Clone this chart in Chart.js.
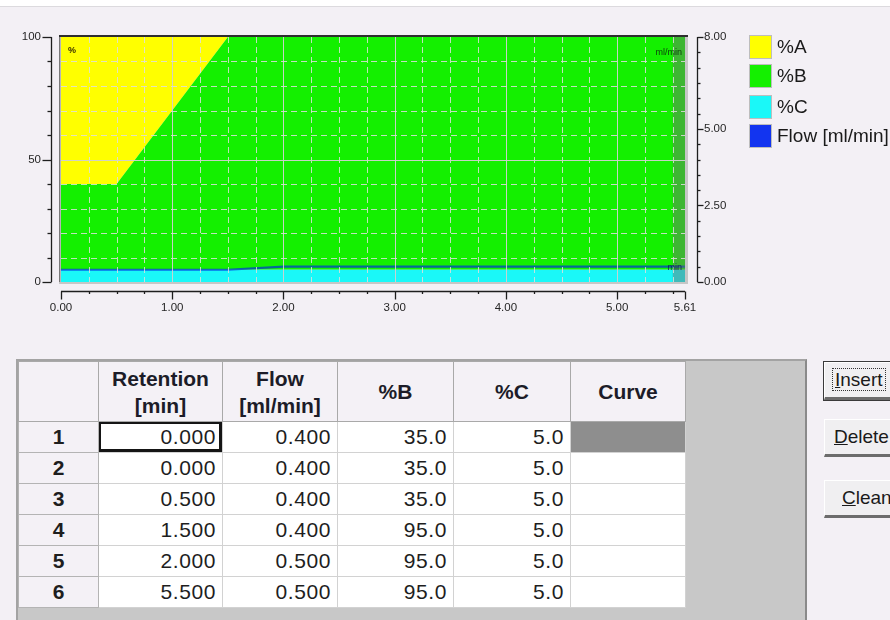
<!DOCTYPE html>
<html><head><meta charset="utf-8">
<script src="https://cdn.jsdelivr.net/npm/chart.js@4/dist/chart.umd.min.js"></script>
<style>
html,body{margin:0;padding:0;width:890px;height:620px;overflow:hidden;background:#f3f0f5;font-family:"Liberation Sans",Arial,sans-serif;}
#topbar{position:absolute;left:0;top:0;width:890px;height:6px;background:#fff;border-bottom:1px solid #dcdade;}
#chartWrap{position:absolute;left:0;top:0;width:890px;height:330px;}
#legend{position:absolute;left:749px;top:35px;width:141px;height:120px;}
.li{position:absolute;left:0;height:24px;white-space:nowrap;}
.sw{position:absolute;left:0;top:0;width:21px;height:22px;border:1px solid #bdbdbd;}
.lt{position:absolute;left:28px;top:0;line-height:24px;font-size:19px;color:#1a1a1a;}
#grid{position:absolute;left:16px;top:359px;width:791px;height:270px;background:#c8c8c8;border-left:2px solid #a3a3a3;border-top:2px solid #a3a3a3;border-right:2px solid #8a8a8a;box-sizing:border-box;}
#grid table{border-collapse:collapse;table-layout:fixed;position:absolute;left:0;top:0;}
#grid th{background:#f4f1f6;border:1px solid #a9a9a9;font-weight:bold;font-size:21px;line-height:27px;color:#1c1c28;height:60px;padding:0;text-align:center;box-sizing:border-box;}
#grid td{height:31px;padding:0 6px 0 0;box-sizing:border-box;border:1px solid #d2d2d2;background:#fff;text-align:right;font-size:21px;letter-spacing:0.6px;color:#1e1e1e;}
#grid td.rh{background:#f4f1f6;border:1px solid #b4b4b4;text-align:center;font-weight:bold;padding:0;letter-spacing:0;}
#grid td.focus{box-shadow:inset 2px 2px 0 #151515, inset -3px -3px 0 #151515;}
#grid td.curvesel{background:#8e8e8e;}
.btn{position:absolute;left:824px;width:90px;height:38px;background:#f0eff1;border-top:1px solid #ffffff;border-left:1px solid #ffffff;border-bottom:3px solid #6c6c6c;border-right:2px solid #6c6c6c;box-sizing:border-box;font-size:19px;color:#1a1a1a;line-height:34px;white-space:nowrap;}
.btn.def{outline:1px solid #3a3a3a;}
.btn span.f{border:1px dotted #333;padding:0 2px;}
</style>
</head>
<body>
<div id="topbar"></div>
<div id="chartWrap"><canvas id="c" width="890" height="330"></canvas></div>
<div id="legend"></div>
<div id="grid"></div>
<div class="btn def" style="top:362px;padding-left:7px;"><span class="f"><u>I</u>nsert</span></div>
<div class="btn" style="top:419px;padding-left:9px;"><u>D</u>elete</div>
<div class="btn" style="top:480px;padding-left:17px;"><u>C</u>lean</div>
<script>
const RETENTION = [0.000, 0.000, 0.500, 1.500, 2.000, 5.500];
const FLOW      = [0.400, 0.400, 0.400, 0.400, 0.500, 0.500];
const PCT_B     = [35.0, 35.0, 35.0, 95.0, 95.0, 95.0];
const PCT_C     = [5.0, 5.0, 5.0, 5.0, 5.0, 5.0];
const CURVE     = ['', '', '', '', '', ''];
const ROW_NUMBERS = [1, 2, 3, 4, 5, 6];
const RUN_END = 5.61;

const X_TICK_VALUES = [0, 1, 2, 3, 4, 5, 5.61];
const X_TICK_LABELS = ['0.00', '1.00', '2.00', '3.00', '4.00', '5.00', '5.61'];
const Y_TICK_VALUES = [0, 50, 100];
const Y_TICK_LABELS = ['0', '50', '100'];
const FLOW_TICK_VALUES = [0, 2.5, 5, 8];
const FLOW_TICK_LABELS = ['0.00', '2.50', '5.00', '8.00'];
const X_MINOR_STEP = 0.25, Y_MINOR_STEP = 10, FLOW_MINOR_STEP = 0.5;

const SERIES_NAMES = ['%A', '%B', '%C', 'Flow [ml/min]'];
const SERIES_COLORS = ['#ffff00', '#14f000', '#1af8f8', '#1234f0'];
const TABLE_HEADERS = ['', 'Retention<br>[min]', 'Flow<br>[ml/min]', '%B', '%C', 'Curve'];
const COL_WIDTHS = [80, 124, 115, 116, 117, 115];

// ---- derived series ----
const T = [...RETENTION, RUN_END];
const hold = arr => [...arr, arr[arr.length - 1]];
const cTop = hold(PCT_C);
const bTop = hold(PCT_B.map((b, i) => b + PCT_C[i]));
const aTop = T.map(() => 100);
const flowExt = hold(FLOW);
const pts = ys => T.map((t, i) => ({x: t, y: ys[i]}));

function stepTicks(min, max, step, majors) {
  const out = [];
  for (let v = min; v <= max + 1e-9; v += step) out.push(+v.toFixed(4));
  majors.forEach(m => { if (!out.some(o => Math.abs(o - m) < 1e-6)) out.push(m); });
  return out.sort((a, b) => a - b);
}
const isIn = (arr, v) => arr.findIndex(m => Math.abs(m - v) < 1e-6);

const decor = {
  id: 'decor',
  afterDatasetsDraw(chart) {
    const {ctx, chartArea: a, scales} = chart;
    const x = scales.x, y = scales.y, y2 = scales.y2;
    ctx.save();
    // post-run band
    const xs = x.getPixelForValue(RETENTION[RETENTION.length - 1]);
    ctx.fillStyle = 'rgba(110,110,110,0.45)';
    ctx.fillRect(xs, a.top, a.right - xs, a.bottom - a.top);
    // grid
    ctx.lineWidth = 1;
    x.ticks.forEach(t => {
      const v = t.value;
      if (v <= x.min + 1e-9 || v >= x.max - 1e-9) return;
      const major = isIn(X_TICK_VALUES, v) >= 0;
      const px = Math.round(x.getPixelForValue(v)) + 0.5;
      ctx.setLineDash(major ? [] : [6, 4]);
      ctx.strokeStyle = major ? 'rgba(208,208,208,0.95)' : 'rgba(222,222,222,0.85)';
      ctx.beginPath(); ctx.moveTo(px, a.top); ctx.lineTo(px, a.bottom); ctx.stroke();
    });
    y.ticks.forEach(t => {
      const v = t.value;
      if (v <= y.min + 1e-9 || v >= y.max - 1e-9) return;
      const major = isIn(Y_TICK_VALUES, v) >= 0;
      const py = Math.round(y.getPixelForValue(v)) + 0.5;
      ctx.setLineDash(major ? [] : [6, 4]);
      ctx.strokeStyle = major ? 'rgba(208,208,208,0.95)' : 'rgba(222,222,222,0.85)';
      ctx.beginPath(); ctx.moveTo(a.left, py); ctx.lineTo(a.right, py); ctx.stroke();
    });
    ctx.setLineDash([]);
    // frame
    const w = a.right - a.left, h = a.bottom - a.top;
    ctx.fillStyle = '#c6c6c6';
    ctx.fillRect(a.right, a.top - 1, 3, h + 3);
    ctx.fillRect(a.left - 2, a.bottom, w + 5, 2);
    ctx.fillStyle = '#7a7a7a';
    ctx.fillRect(a.left - 2, a.top - 2, 1.5, h + 2);
    ctx.fillStyle = '#2e2e2e';
    ctx.fillRect(a.left - 2, a.top - 2, w + 5, 2);
    // axis lines and tick marks
    ctx.strokeStyle = '#1e1e1e';
    ctx.lineWidth = 1.3;
    const lx = a.left - 9.5;
    ctx.beginPath(); ctx.moveTo(lx, y.getPixelForValue(y.max)); ctx.lineTo(lx, y.getPixelForValue(y.min)); ctx.stroke();
    y.ticks.forEach(t => {
      const py = Math.round(y.getPixelForValue(t.value)) + 0.5;
      const len = isIn(Y_TICK_VALUES, t.value) >= 0 ? 9 : 4;
      ctx.beginPath(); ctx.moveTo(lx - len, py); ctx.lineTo(lx, py); ctx.stroke();
    });
    const by = a.bottom + 9.5;
    ctx.beginPath(); ctx.moveTo(x.getPixelForValue(x.min), by); ctx.lineTo(x.getPixelForValue(x.max), by); ctx.stroke();
    x.ticks.forEach(t => {
      const px = Math.round(x.getPixelForValue(t.value)) + 0.5;
      const len = isIn(X_TICK_VALUES, t.value) >= 0 ? 8 : 2.5;
      ctx.beginPath(); ctx.moveTo(px, by); ctx.lineTo(px, by + len); ctx.stroke();
    });
    const rx = a.right + 12.5;
    ctx.beginPath(); ctx.moveTo(rx, y2.getPixelForValue(y2.max)); ctx.lineTo(rx, y2.getPixelForValue(y2.min)); ctx.stroke();
    y2.ticks.forEach(t => {
      const py = Math.round(y2.getPixelForValue(t.value)) + 0.5;
      const len = isIn(FLOW_TICK_VALUES, t.value) >= 0 ? 6 : 3;
      ctx.beginPath(); ctx.moveTo(rx, py); ctx.lineTo(rx + len, py); ctx.stroke();
    });
    // unit captions inside the plot
    ctx.font = 'bold 9px "Liberation Sans", Arial, sans-serif';
    ctx.textBaseline = 'middle';
    ctx.fillStyle = '#3a3000';
    ctx.textAlign = 'left';
    ctx.fillText('%', a.left + 7, a.top + 14);
    ctx.font = '9px "Liberation Sans", Arial, sans-serif';
    ctx.fillStyle = '#0c3a0c';
    ctx.textAlign = 'right';
    ctx.fillText('ml/min', a.right - 3, a.top + 16);
    ctx.fillStyle = '#10205a';
    ctx.fillText('min', a.right - 3, a.bottom - 14);
    ctx.restore();
  }
};

const tickFont = {family: '"Liberation Sans", Arial, sans-serif', size: 11.5};
new Chart(document.getElementById('c'), {
  type: 'line',
  data: {
    datasets: [
      {label: SERIES_NAMES[3], data: pts(flowExt), yAxisID: 'y2', borderColor: 'rgba(0,40,225,0.68)', borderWidth: 2.2, pointRadius: 0, fill: false, tension: 0},
      {label: SERIES_NAMES[2], data: pts(cTop), yAxisID: 'y', backgroundColor: SERIES_COLORS[2], borderColor: 'rgba(0,0,0,0)', borderWidth: 0, pointRadius: 0, fill: 'origin', tension: 0},
      {label: SERIES_NAMES[1], data: pts(bTop), yAxisID: 'y', backgroundColor: SERIES_COLORS[1], borderColor: 'rgba(0,0,0,0)', borderWidth: 0, pointRadius: 0, fill: '-1', tension: 0},
      {label: SERIES_NAMES[0], data: pts(aTop), yAxisID: 'y', backgroundColor: SERIES_COLORS[0], borderColor: 'rgba(0,0,0,0)', borderWidth: 0, pointRadius: 0, fill: '-1', tension: 0}
    ]
  },
  options: {
    responsive: false, animation: false, devicePixelRatio: 1,
    layout: {padding: {top: 37, left: 0, right: 0, bottom: 0}},
    plugins: {legend: {display: false}, tooltip: {enabled: false}},
    scales: {
      x: {
        type: 'linear', min: 0, max: RUN_END,
        grid: {display: false, drawTicks: false}, border: {display: false},
        afterBuildTicks: s => { s.ticks = stepTicks(0, RUN_END, X_MINOR_STEP, X_TICK_VALUES).map(v => ({value: v})); },
        afterFit: s => { s.height = 48; },
        ticks: {autoSkip: false, maxRotation: 0, padding: 19, color: '#262626', font: tickFont,
          callback: v => { const i = isIn(X_TICK_VALUES, v); return i >= 0 ? X_TICK_LABELS[i] : ''; }}
      },
      y: {
        type: 'linear', position: 'left', min: 0, max: 100,
        grid: {display: false, drawTicks: false}, border: {display: false},
        afterBuildTicks: s => { s.ticks = stepTicks(0, 100, Y_MINOR_STEP, Y_TICK_VALUES).map(v => ({value: v})); },
        afterFit: s => { s.width = 61; },
        ticks: {autoSkip: false, padding: 20, color: '#262626', font: tickFont,
          callback: v => { const i = isIn(Y_TICK_VALUES, v); return i >= 0 ? Y_TICK_LABELS[i] : ''; }}
      },
      y2: {
        type: 'linear', position: 'right', min: 0, max: 8,
        grid: {display: false, drawTicks: false}, border: {display: false},
        afterBuildTicks: s => { s.ticks = stepTicks(0, 8, FLOW_MINOR_STEP, FLOW_TICK_VALUES).map(v => ({value: v})); },
        afterFit: s => { s.width = 205; },
        ticks: {autoSkip: false, padding: 19, color: '#262626', font: tickFont,
          callback: v => { const i = isIn(FLOW_TICK_VALUES, v); return i >= 0 ? FLOW_TICK_LABELS[i] : ''; }}
      }
    }
  },
  plugins: [decor]
});

// ---- legend ----
const legendTops = [0, 29, 60, 89];
const lg = document.getElementById('legend');
SERIES_NAMES.forEach((n, i) => {
  const d = document.createElement('div');
  d.className = 'li'; d.style.top = legendTops[i] + 'px';
  d.innerHTML = '<div class="sw" style="background:' + SERIES_COLORS[i] + '"></div><div class="lt">' + n + '</div>';
  lg.appendChild(d);
});

// ---- table ----
let html = '<table><colgroup>' + COL_WIDTHS.map(w => '<col style="width:' + w + 'px">').join('') + '</colgroup>';
html += '<tr>' + TABLE_HEADERS.map(h => '<th>' + h + '</th>').join('') + '</tr>';
ROW_NUMBERS.forEach((r, i) => {
  html += '<tr><td class="rh">' + r + '</td>' +
    '<td' + (i === 0 ? ' class="focus"' : '') + '>' + RETENTION[i].toFixed(3) + '</td>' +
    '<td>' + FLOW[i].toFixed(3) + '</td>' +
    '<td>' + PCT_B[i].toFixed(1) + '</td>' +
    '<td>' + PCT_C[i].toFixed(1) + '</td>' +
    '<td' + (i === 0 ? ' class="curvesel"' : '') + '>' + CURVE[i] + '</td></tr>';
});
html += '</table>';
document.getElementById('grid').innerHTML = html;
</script>
</body></html>
